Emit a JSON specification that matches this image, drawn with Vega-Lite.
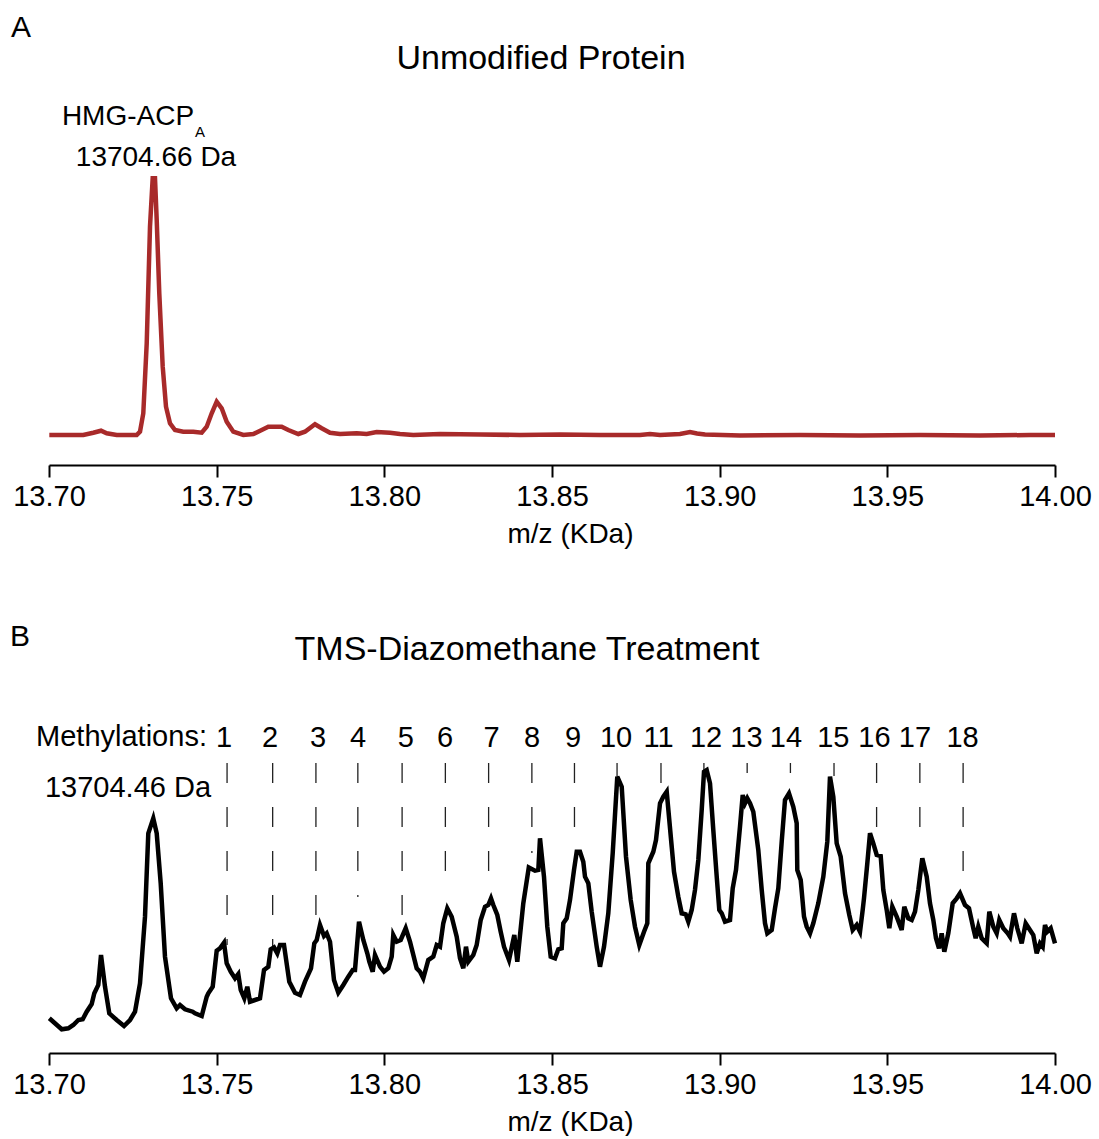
{
  "$schema": "https://vega.github.io/schema/vega-lite/v6.json",
  "padding": {"left": 9, "top": 0, "right": 0, "bottom": 0},
  "spacing": 123,
  "bounds": "flush",
  "config": {"view": {"stroke": null}, "font": "Liberation Sans"},
  "datasets": {
    "specA": [
      {"mz": 13.70009, "i": 30}, {"mz": 13.71023, "i": 30}, {"mz": 13.71321, "i": 32.3}, {"mz": 13.71551, "i": 34.3},
      {"mz": 13.71721, "i": 31.7}, {"mz": 13.72019, "i": 30}, {"mz": 13.72615, "i": 30}, {"mz": 13.72714, "i": 33.3},
      {"mz": 13.72812, "i": 51.7}, {"mz": 13.72914, "i": 121.7}, {"mz": 13.73012, "i": 238.3}, {"mz": 13.73092, "i": 286.7},
      {"mz": 13.73161, "i": 286.7}, {"mz": 13.73212, "i": 245}, {"mz": 13.73289, "i": 171.7}, {"mz": 13.73391, "i": 98.3},
      {"mz": 13.73489, "i": 58.3}, {"mz": 13.73608, "i": 41.7}, {"mz": 13.73757, "i": 35}, {"mz": 13.74005, "i": 33.3},
      {"mz": 13.74303, "i": 33.3}, {"mz": 13.74554, "i": 32.3}, {"mz": 13.74703, "i": 38.3}, {"mz": 13.74852, "i": 51.7},
      {"mz": 13.75001, "i": 63.3}, {"mz": 13.7515, "i": 56.7}, {"mz": 13.75299, "i": 43.3}, {"mz": 13.75496, "i": 33.3},
      {"mz": 13.75794, "i": 30}, {"mz": 13.76092, "i": 31}, {"mz": 13.76343, "i": 35}, {"mz": 13.7654, "i": 38.3},
      {"mz": 13.76939, "i": 38.3}, {"mz": 13.77136, "i": 35}, {"mz": 13.77434, "i": 31}, {"mz": 13.77634, "i": 33.3},
      {"mz": 13.77932, "i": 40.7}, {"mz": 13.78132, "i": 36.7}, {"mz": 13.7838, "i": 32.3}, {"mz": 13.78678, "i": 31},
      {"mz": 13.79176, "i": 31.7}, {"mz": 13.79474, "i": 31}, {"mz": 13.79772, "i": 33}, {"mz": 13.80169, "i": 32.3},
      {"mz": 13.80467, "i": 31}, {"mz": 13.80864, "i": 30}, {"mz": 13.8166, "i": 31}, {"mz": 13.82853, "i": 30.5},
      {"mz": 13.84046, "i": 30}, {"mz": 13.85239, "i": 30.5}, {"mz": 13.86431, "i": 30}, {"mz": 13.87624, "i": 30},
      {"mz": 13.87922, "i": 31}, {"mz": 13.88221, "i": 30}, {"mz": 13.88817, "i": 31}, {"mz": 13.89115, "i": 33},
      {"mz": 13.89324, "i": 31.5}, {"mz": 13.89563, "i": 30.5}, {"mz": 13.90606, "i": 29.5}, {"mz": 13.92396, "i": 30},
      {"mz": 13.94185, "i": 29.5}, {"mz": 13.95974, "i": 30}, {"mz": 13.97763, "i": 29.5}, {"mz": 13.99254, "i": 30},
      {"mz": 14.0, "i": 30}
    ],
    "specB": [
      {"mz": 13.70009, "i": 34.7}, {"mz": 13.70379, "i": 23.7}, {"mz": 13.70576, "i": 24.7}, {"mz": 13.70725, "i": 28},
      {"mz": 13.70874, "i": 33}, {"mz": 13.71005, "i": 33.7}, {"mz": 13.71124, "i": 41.3}, {"mz": 13.71273, "i": 49},
      {"mz": 13.71351, "i": 59.7}, {"mz": 13.7147, "i": 68}, {"mz": 13.71551, "i": 98}, {"mz": 13.7167, "i": 66.3},
      {"mz": 13.71798, "i": 39.7}, {"mz": 13.72019, "i": 33}, {"mz": 13.72237, "i": 27}, {"mz": 13.72416, "i": 33},
      {"mz": 13.72565, "i": 41.3}, {"mz": 13.72714, "i": 69.7}, {"mz": 13.72863, "i": 136.3}, {"mz": 13.72961, "i": 219.7},
      {"mz": 13.7311, "i": 234.7}, {"mz": 13.73212, "i": 219.7}, {"mz": 13.73331, "i": 169.7}, {"mz": 13.73459, "i": 96.3},
      {"mz": 13.73638, "i": 54.7}, {"mz": 13.73808, "i": 44.7}, {"mz": 13.73907, "i": 48}, {"mz": 13.74056, "i": 43.7},
      {"mz": 13.74285, "i": 41.3}, {"mz": 13.74354, "i": 39.7}, {"mz": 13.74554, "i": 37}, {"mz": 13.74703, "i": 56.3},
      {"mz": 13.74751, "i": 59.7}, {"mz": 13.74882, "i": 66.3}, {"mz": 13.75001, "i": 102.3}, {"mz": 13.75099, "i": 104.7},
      {"mz": 13.75219, "i": 110.3}, {"mz": 13.75299, "i": 89.7}, {"mz": 13.75419, "i": 81.3}, {"mz": 13.75547, "i": 74.7},
      {"mz": 13.75645, "i": 79}, {"mz": 13.75717, "i": 63}, {"mz": 13.75824, "i": 54.7}, {"mz": 13.75914, "i": 66.3},
      {"mz": 13.75994, "i": 51.3}, {"mz": 13.76143, "i": 53}, {"mz": 13.76292, "i": 54.7}, {"mz": 13.76412, "i": 83},
      {"mz": 13.7654, "i": 86.3}, {"mz": 13.76611, "i": 103.7}, {"mz": 13.7671, "i": 105.7}, {"mz": 13.76808, "i": 99.7},
      {"mz": 13.76889, "i": 108}, {"mz": 13.77008, "i": 108}, {"mz": 13.77166, "i": 71.3}, {"mz": 13.77336, "i": 60.3},
      {"mz": 13.77485, "i": 58}, {"mz": 13.77634, "i": 71.3}, {"mz": 13.77813, "i": 84.7}, {"mz": 13.77912, "i": 109.7},
      {"mz": 13.77983, "i": 113}, {"mz": 13.78082, "i": 128}, {"mz": 13.78201, "i": 117}, {"mz": 13.78281, "i": 119.7},
      {"mz": 13.7838, "i": 111.3}, {"mz": 13.78499, "i": 73}, {"mz": 13.78627, "i": 60.3}, {"mz": 13.78776, "i": 68},
      {"mz": 13.78926, "i": 76.3}, {"mz": 13.79057, "i": 83}, {"mz": 13.79125, "i": 83}, {"mz": 13.79245, "i": 131.3},
      {"mz": 13.79373, "i": 113}, {"mz": 13.79492, "i": 99.7}, {"mz": 13.79552, "i": 91.3}, {"mz": 13.79653, "i": 81.3},
      {"mz": 13.79722, "i": 98}, {"mz": 13.79871, "i": 86.3}, {"mz": 13.7999, "i": 81.3}, {"mz": 13.80118, "i": 84.7},
      {"mz": 13.8022, "i": 96.3}, {"mz": 13.80267, "i": 118}, {"mz": 13.80369, "i": 111.3}, {"mz": 13.80488, "i": 113},
      {"mz": 13.80637, "i": 124.7}, {"mz": 13.80765, "i": 111.3}, {"mz": 13.80965, "i": 84.7}, {"mz": 13.81064, "i": 81.3},
      {"mz": 13.81162, "i": 74.7}, {"mz": 13.81311, "i": 93}, {"mz": 13.8146, "i": 96.3}, {"mz": 13.81562, "i": 108},
      {"mz": 13.8166, "i": 106.3}, {"mz": 13.81758, "i": 129.7}, {"mz": 13.81878, "i": 144.7}, {"mz": 13.82009, "i": 136.3},
      {"mz": 13.82158, "i": 116.3}, {"mz": 13.82256, "i": 94.7}, {"mz": 13.82355, "i": 84.7}, {"mz": 13.82435, "i": 106.3},
      {"mz": 13.82504, "i": 91.3}, {"mz": 13.82653, "i": 98}, {"mz": 13.82754, "i": 108}, {"mz": 13.82874, "i": 133},
      {"mz": 13.83002, "i": 146.3}, {"mz": 13.831, "i": 148}, {"mz": 13.83181, "i": 154.7}, {"mz": 13.8325, "i": 148},
      {"mz": 13.83369, "i": 138}, {"mz": 13.8347, "i": 121.3}, {"mz": 13.83569, "i": 106.3}, {"mz": 13.83718, "i": 93},
      {"mz": 13.83876, "i": 118}, {"mz": 13.83965, "i": 91.3}, {"mz": 13.84144, "i": 149.7}, {"mz": 13.84308, "i": 185.5},
      {"mz": 13.84493, "i": 182.3}, {"mz": 13.84592, "i": 183}, {"mz": 13.84642, "i": 214.7}, {"mz": 13.84761, "i": 176.3},
      {"mz": 13.8486, "i": 126.3}, {"mz": 13.84961, "i": 96.3}, {"mz": 13.8509, "i": 94.7}, {"mz": 13.85188, "i": 103.7},
      {"mz": 13.85289, "i": 104.7}, {"mz": 13.85337, "i": 129.7}, {"mz": 13.85438, "i": 134.7}, {"mz": 13.85537, "i": 153},
      {"mz": 13.85656, "i": 183}, {"mz": 13.85737, "i": 201.3}, {"mz": 13.85835, "i": 201.3}, {"mz": 13.85933, "i": 191.3},
      {"mz": 13.85984, "i": 176.3}, {"mz": 13.86083, "i": 169.7}, {"mz": 13.86184, "i": 141.3}, {"mz": 13.86333, "i": 106.3},
      {"mz": 13.86431, "i": 86.3}, {"mz": 13.86551, "i": 106.3}, {"mz": 13.86679, "i": 139.7}, {"mz": 13.8681, "i": 199.7},
      {"mz": 13.86947, "i": 276.3}, {"mz": 13.87079, "i": 266.3}, {"mz": 13.87207, "i": 196.3}, {"mz": 13.87347, "i": 153},
      {"mz": 13.87475, "i": 126.3}, {"mz": 13.87603, "i": 108}, {"mz": 13.87744, "i": 121.3}, {"mz": 13.87842, "i": 129.7},
      {"mz": 13.87872, "i": 189.7}, {"mz": 13.88021, "i": 201.3}, {"mz": 13.88101, "i": 213}, {"mz": 13.88221, "i": 249.7},
      {"mz": 13.88319, "i": 256.3}, {"mz": 13.88421, "i": 261.3}, {"mz": 13.8857, "i": 206.3}, {"mz": 13.88638, "i": 181.3},
      {"mz": 13.88766, "i": 156.3}, {"mz": 13.88868, "i": 139.7}, {"mz": 13.88987, "i": 138.7}, {"mz": 13.89065, "i": 131.3},
      {"mz": 13.89166, "i": 143}, {"mz": 13.89264, "i": 163}, {"mz": 13.89363, "i": 193}, {"mz": 13.89464, "i": 243},
      {"mz": 13.89533, "i": 281.3}, {"mz": 13.89613, "i": 283}, {"mz": 13.89712, "i": 269.7}, {"mz": 13.8981, "i": 223},
      {"mz": 13.89912, "i": 176.3}, {"mz": 13.89989, "i": 143}, {"mz": 13.90061, "i": 139.7}, {"mz": 13.90159, "i": 131.3},
      {"mz": 13.90308, "i": 133}, {"mz": 13.90389, "i": 164.7}, {"mz": 13.90487, "i": 183}, {"mz": 13.90606, "i": 226.3},
      {"mz": 13.90687, "i": 258}, {"mz": 13.90756, "i": 249.7}, {"mz": 13.90824, "i": 254.7}, {"mz": 13.90905, "i": 249.7},
      {"mz": 13.91003, "i": 241.3}, {"mz": 13.91152, "i": 203}, {"mz": 13.91254, "i": 163}, {"mz": 13.91352, "i": 129.7},
      {"mz": 13.91421, "i": 119.7}, {"mz": 13.91552, "i": 123}, {"mz": 13.9165, "i": 144.7}, {"mz": 13.91749, "i": 164.7},
      {"mz": 13.9185, "i": 211.3}, {"mz": 13.91948, "i": 253}, {"mz": 13.92068, "i": 259.7}, {"mz": 13.92196, "i": 246.3},
      {"mz": 13.92297, "i": 229.7}, {"mz": 13.92315, "i": 183}, {"mz": 13.92417, "i": 173}, {"mz": 13.92515, "i": 136.3},
      {"mz": 13.92595, "i": 126.3}, {"mz": 13.92694, "i": 119.7}, {"mz": 13.92792, "i": 129.7}, {"mz": 13.92941, "i": 149.7},
      {"mz": 13.93091, "i": 176.3}, {"mz": 13.9321, "i": 211.3}, {"mz": 13.9329, "i": 276.3}, {"mz": 13.93389, "i": 256.3},
      {"mz": 13.9349, "i": 209.7}, {"mz": 13.93609, "i": 196.3}, {"mz": 13.93738, "i": 159.7}, {"mz": 13.93866, "i": 138},
      {"mz": 13.93967, "i": 123}, {"mz": 13.94087, "i": 128}, {"mz": 13.94185, "i": 121.3}, {"mz": 13.94265, "i": 143},
      {"mz": 13.94304, "i": 154.7}, {"mz": 13.94403, "i": 189.7}, {"mz": 13.94483, "i": 219.7}, {"mz": 13.94582, "i": 209.7},
      {"mz": 13.94683, "i": 198}, {"mz": 13.94802, "i": 197}, {"mz": 13.9488, "i": 163}, {"mz": 13.94981, "i": 143},
      {"mz": 13.95059, "i": 124.7}, {"mz": 13.95148, "i": 146.3}, {"mz": 13.95279, "i": 136.3}, {"mz": 13.95428, "i": 123},
      {"mz": 13.95506, "i": 146.3}, {"mz": 13.95625, "i": 134.7}, {"mz": 13.95727, "i": 133}, {"mz": 13.95825, "i": 141.3},
      {"mz": 13.95924, "i": 163}, {"mz": 13.96043, "i": 194.7}, {"mz": 13.96174, "i": 176.3}, {"mz": 13.96272, "i": 149.7},
      {"mz": 13.96371, "i": 133}, {"mz": 13.96451, "i": 114.7}, {"mz": 13.96541, "i": 104.7}, {"mz": 13.96621, "i": 119.7},
      {"mz": 13.96699, "i": 101.3}, {"mz": 13.96818, "i": 119.7}, {"mz": 13.96949, "i": 149.7}, {"mz": 13.97069, "i": 154.7},
      {"mz": 13.97167, "i": 159.7}, {"mz": 13.97316, "i": 148}, {"mz": 13.97435, "i": 144.7}, {"mz": 13.97564, "i": 124.7},
      {"mz": 13.97635, "i": 114.7}, {"mz": 13.97713, "i": 126.3}, {"mz": 13.97814, "i": 114.7}, {"mz": 13.97963, "i": 109.7},
      {"mz": 13.98041, "i": 141.3}, {"mz": 13.9816, "i": 126.3}, {"mz": 13.98261, "i": 119.7}, {"mz": 13.98339, "i": 133},
      {"mz": 13.98458, "i": 124.7}, {"mz": 13.9859, "i": 119.7}, {"mz": 13.98658, "i": 116.3}, {"mz": 13.98777, "i": 139.7},
      {"mz": 13.98876, "i": 124.7}, {"mz": 13.99007, "i": 109.7}, {"mz": 13.99126, "i": 129.7}, {"mz": 13.99254, "i": 123},
      {"mz": 13.99353, "i": 118}, {"mz": 13.99454, "i": 99.7}, {"mz": 13.99553, "i": 109.7}, {"mz": 13.99633, "i": 106.3},
      {"mz": 13.99702, "i": 128}, {"mz": 13.9977, "i": 121.3}, {"mz": 13.99872, "i": 124.7}, {"mz": 14.0, "i": 109.7}
    ],
    "methRules": [
      {"mz": 13.7531, "i": 290, "i2": 108}, {"mz": 13.7667, "i": 290, "i2": 106}, {"mz": 13.7796, "i": 290, "i2": 125},
      {"mz": 13.7921, "i": 290, "i2": 156}, {"mz": 13.8053, "i": 290, "i2": 123}, {"mz": 13.8182, "i": 290, "i2": 173},
      {"mz": 13.8311, "i": 290, "i2": 180}, {"mz": 13.844, "i": 290, "i2": 200}, {"mz": 13.8567, "i": 290, "i2": 203},
      {"mz": 13.8694, "i": 290, "i2": 277}, {"mz": 13.8825, "i": 290, "i2": 260}, {"mz": 13.8953, "i": 290, "i2": 283},
      {"mz": 13.9082, "i": 290, "i2": 280}, {"mz": 13.9211, "i": 290, "i2": 280}, {"mz": 13.9341, "i": 290, "i2": 277},
      {"mz": 13.9468, "i": 290, "i2": 206}, {"mz": 13.9597, "i": 290, "i2": 208}, {"mz": 13.9726, "i": 290, "i2": 171}
    ],
    "textA": [
      {"mz": 13.72356, "i": 348, "t": "HMG-ACP"},
      {"mz": 13.73191, "i": 307.5, "t": "13704.66 Da"}
    ],
    "textB": [
      {"mz": 13.72162, "i": 316, "t": "Methylations:"},
      {"mz": 13.72356, "i": 265, "t": "13704.46 Da"},
      {"mz": 13.75219, "i": 315, "t": "1"}, {"mz": 13.7659, "i": 315, "t": "2"}, {"mz": 13.78022, "i": 315, "t": "3"},
      {"mz": 13.79215, "i": 315, "t": "4"}, {"mz": 13.80637, "i": 315, "t": "5"}, {"mz": 13.81809, "i": 315, "t": "6"},
      {"mz": 13.83196, "i": 315, "t": "7"}, {"mz": 13.84404, "i": 315, "t": "8"}, {"mz": 13.85626, "i": 315, "t": "9"},
      {"mz": 13.86909, "i": 315, "t": "10"}, {"mz": 13.88176, "i": 315, "t": "11"}, {"mz": 13.89593, "i": 315, "t": "12"},
      {"mz": 13.908, "i": 315, "t": "13"}, {"mz": 13.91978, "i": 315, "t": "14"}, {"mz": 13.93389, "i": 315, "t": "15"},
      {"mz": 13.94617, "i": 315, "t": "16"}, {"mz": 13.95825, "i": 315, "t": "17"}, {"mz": 13.97242, "i": 315, "t": "18"}
    ]
  },
  "vconcat": [
    {
      "width": 1006,
      "height": 465,
      "encoding": {
        "x": {"field": "mz", "type": "quantitative", "scale": {"domain": [13.7, 14.0], "nice": false, "zero": false},
          "axis": {"title": "m/z (KDa)", "values": [13.7, 13.75, 13.8, 13.85, 13.9, 13.95, 14.0], "format": ".2f", "grid": false,
            "domainColor": "black", "domainWidth": 2, "tickColor": "black", "tickWidth": 2, "tickSize": 12,
            "labelFont": "Liberation Sans", "labelFontSize": 29, "labelColor": "black", "labelPadding": 5, "labelFlush": false, "labelOverlap": false,
            "titleFont": "Liberation Sans", "titleFontSize": 28, "titleFontWeight": "normal", "titleColor": "black", "titlePadding": 9, "titleX": 521}},
        "y": {"field": "i", "type": "quantitative", "scale": {"domain": [0, 465], "nice": false, "zero": false}, "axis": null}
      },
      "layer": [
        {"data": {"name": "specA"}, "mark": {"type": "line", "color": "#a82a2a", "strokeWidth": 4.5}},
        {"data": {"name": "textA"}, "mark": {"type": "text", "fontSize": 28, "color": "black", "align": "center", "baseline": "middle"}, "encoding": {"text": {"field": "t"}}},
        {"data": {"values": [{"mz": 13.69165, "i": 437, "t": "A"}]}, "mark": {"type": "text", "fontSize": 30, "color": "black", "align": "center", "baseline": "middle"}, "encoding": {"text": {"field": "t"}}},
        {"data": {"values": [{"mz": 13.74503, "i": 333, "t": "A"}]}, "mark": {"type": "text", "fontSize": 15, "color": "black", "align": "center", "baseline": "middle"}, "encoding": {"text": {"field": "t"}}},
        {"data": {"values": [{"mz": 13.84672, "i": 406, "t": "Unmodified Protein"}]}, "mark": {"type": "text", "fontSize": 34, "color": "black", "align": "center", "baseline": "middle"}, "encoding": {"text": {"field": "t"}}}
      ]
    },
    {
      "width": 1006,
      "height": 465,
      "encoding": {
        "x": {"field": "mz", "type": "quantitative", "scale": {"domain": [13.7, 14.0], "nice": false, "zero": false},
          "axis": {"title": "m/z (KDa)", "values": [13.7, 13.75, 13.8, 13.85, 13.9, 13.95, 14.0], "format": ".2f", "grid": false,
            "domainColor": "black", "domainWidth": 2, "tickColor": "black", "tickWidth": 2, "tickSize": 12,
            "labelFont": "Liberation Sans", "labelFontSize": 29, "labelColor": "black", "labelPadding": 5, "labelFlush": false, "labelOverlap": false,
            "titleFont": "Liberation Sans", "titleFontSize": 28, "titleFontWeight": "normal", "titleColor": "black", "titlePadding": 9, "titleX": 521}},
        "y": {"field": "i", "type": "quantitative", "scale": {"domain": [0, 465], "nice": false, "zero": false}, "axis": null}
      },
      "layer": [
        {"data": {"name": "methRules"}, "mark": {"type": "rule", "color": "#222222", "strokeWidth": 1.3, "strokeDash": [20, 24]}, "encoding": {"y2": {"field": "i2"}}},
        {"data": {"name": "specB"}, "mark": {"type": "line", "color": "black", "strokeWidth": 4.5}},
        {"data": {"name": "textB"}, "mark": {"type": "text", "fontSize": 29, "color": "black", "align": "center", "baseline": "middle"}, "encoding": {"text": {"field": "t"}}},
        {"data": {"values": [{"mz": 13.69135, "i": 416, "t": "B"}]}, "mark": {"type": "text", "fontSize": 30, "color": "black", "align": "center", "baseline": "middle"}, "encoding": {"text": {"field": "t"}}},
        {"data": {"values": [{"mz": 13.84254, "i": 403, "t": "TMS-Diazomethane Treatment"}]}, "mark": {"type": "text", "fontSize": 34, "color": "black", "align": "center", "baseline": "middle"}, "encoding": {"text": {"field": "t"}}}
      ]
    }
  ]
}
